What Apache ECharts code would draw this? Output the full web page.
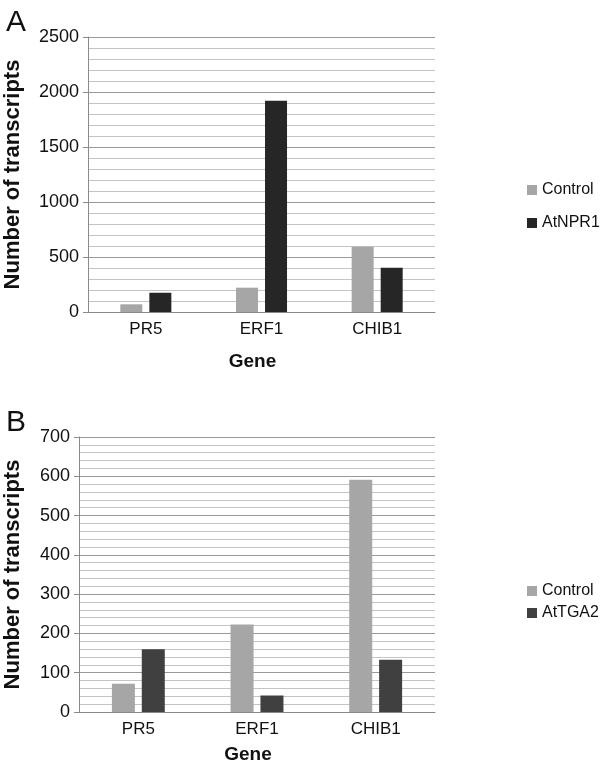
<!DOCTYPE html>
<html>
<head>
<meta charset="utf-8">
<script src="https://cdn.jsdelivr.net/npm/echarts@6/dist/echarts.min.js"></script>
<style>
html,body{margin:0;padding:0;background:#fff;}
#chart{width:600px;height:766px;}
</style>
</head>
<body>
<div id="chart"></div>
<script>
// Data
const genes = ['PR5', 'ERF1', 'CHIB1'];
const controlA = [70, 221, 594];
const atNPR1 = [175, 1920, 403];
const controlB = [72, 223, 591];
const atTGA2 = [160, 42, 133];
const yTicksA = [0, 500, 1000, 1500, 2000, 2500];
const yTicksB = [0, 100, 200, 300, 400, 500, 600, 700];

const FONT = "'Liberation Sans', Arial, Helvetica, sans-serif";
const cLight = '#a6a6a6';
const cDarkA = '#262626';
const cDarkB = '#404040';

const chart = echarts.init(document.getElementById('chart'), null, {renderer: 'canvas'});

function yAxisCfg(gridIndex, ticks, nameGap) {
  const step = ticks[1] - ticks[0];
  return {
    type: 'value', gridIndex: gridIndex,
    min: ticks[0], max: ticks[ticks.length - 1], interval: step,
    name: 'Number of transcripts', nameLocation: 'middle', nameGap: nameGap,
    nameTextStyle: {fontFamily: FONT, fontSize: 22, fontWeight: 'bold', color: '#111'},
    axisLine: {show: true, lineStyle: {color: '#8a8a8a', width: 1}},
    axisTick: {show: true, length: 5, lineStyle: {color: '#8a8a8a'}},
    axisLabel: {fontFamily: FONT, fontSize: 18, color: '#111', margin: 9,
      formatter: function (v) { return String(v); }},
    splitLine: {show: true, lineStyle: {color: '#9a9a9a', width: 1}},
    minorTick: {show: false, splitNumber: 5},
    minorSplitLine: {show: true, lineStyle: {color: '#c4c4c4', width: 1}}
  };
}
function xAxisCfg(gridIndex, nameGap) {
  return {
    type: 'category', gridIndex: gridIndex, data: genes,
    name: 'Gene', nameLocation: 'middle', nameGap: nameGap,
    nameTextStyle: {fontFamily: FONT, fontSize: 19, fontWeight: 'bold', color: '#111', padding: [0, 18, 0, 0]},
    axisLine: {show: true, lineStyle: {color: '#8a8a8a', width: 1}},
    axisTick: {show: false},
    axisLabel: {fontFamily: FONT, fontSize: 17, color: '#111', margin: 9}
  };
}

const option = {
  animation: false,
  backgroundColor: '#fff',
  title: [
    {text: 'A', left: 1, top: 3, textStyle: {fontFamily: FONT, fontSize: 30, fontWeight: 'normal', color: '#111'}},
    {text: 'B', left: 1, top: 403, textStyle: {fontFamily: FONT, fontSize: 30, fontWeight: 'normal', color: '#111'}}
  ],
  legend: [
    {data: ['Control', 'AtNPR1'], orient: 'vertical', left: 522, top: 177, itemWidth: 10, itemHeight: 10, itemGap: 17,
      icon: 'rect', textStyle: {fontFamily: FONT, fontSize: 16, color: '#111'}},
    {data: ['Control', 'AtTGA2'], orient: 'vertical', left: 522, top: 578, itemWidth: 10, itemHeight: 10, itemGap: 6,
      icon: 'rect', textStyle: {fontFamily: FONT, fontSize: 16, color: '#111'}}
  ],
  grid: [
    {left: 88, top: 37, width: 347, height: 275, outerBoundsMode: 'none', containLabel: false},
    {left: 79, top: 437, width: 356, height: 275, outerBoundsMode: 'none', containLabel: false}
  ],
  xAxis: [xAxisCfg(0, 40), xAxisCfg(1, 33)],
  yAxis: [yAxisCfg(0, yTicksA, 64), yAxisCfg(1, yTicksB, 55)],
  series: [
    {name: 'Control', type: 'bar', xAxisIndex: 0, yAxisIndex: 0, data: controlA,
      barWidth: 22, barGap: '32%', itemStyle: {color: cLight}},
    {name: 'AtNPR1', type: 'bar', xAxisIndex: 0, yAxisIndex: 0, data: atNPR1,
      barWidth: 22, barGap: '32%', itemStyle: {color: cDarkA}},
    {name: 'Control', type: 'bar', xAxisIndex: 1, yAxisIndex: 1, data: controlB,
      barWidth: 23, barGap: '30%', itemStyle: {color: cLight}},
    {name: 'AtTGA2', type: 'bar', xAxisIndex: 1, yAxisIndex: 1, data: atTGA2,
      barWidth: 23, barGap: '30%', itemStyle: {color: cDarkB}}
  ]
};
chart.setOption(option);
</script>
</body>
</html>
